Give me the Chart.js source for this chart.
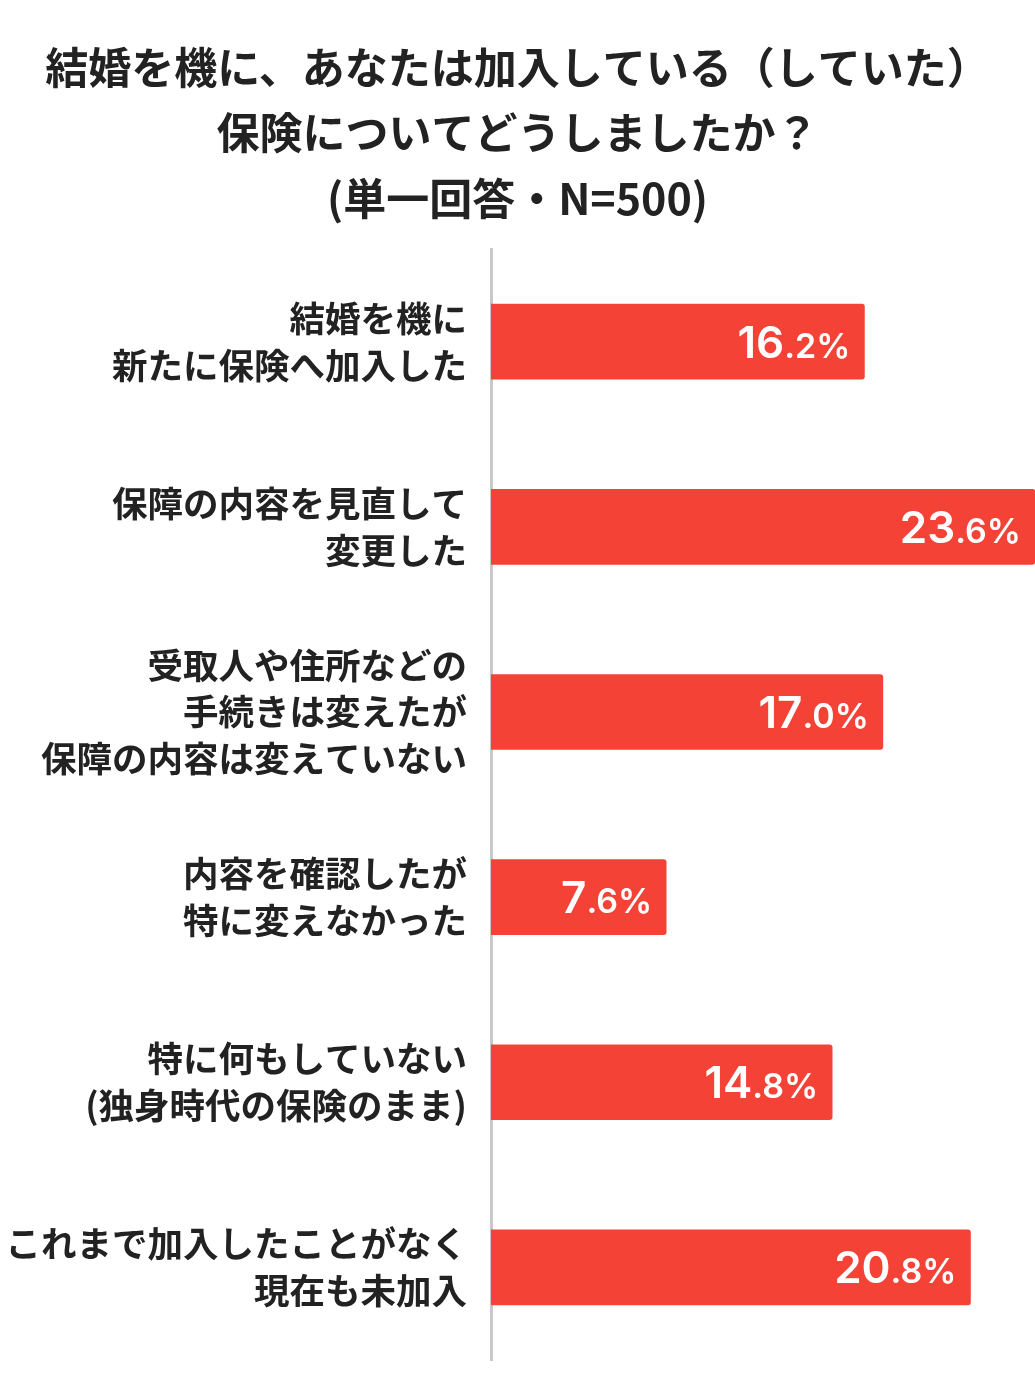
<!DOCTYPE html>
<html lang="ja">
<head>
<meta charset="utf-8">
<title>結婚を機に保険についてどうしましたか</title>
<script src="https://cdn.jsdelivr.net/npm/chart.js@4/dist/chart.umd.min.js"></script>
<style>
  html, body { margin: 0; padding: 0; background: #fff; }
  #wrap { width: 1035px; height: 1389px; }
</style>
</head>
<body>
<div id="wrap"><canvas id="chart" width="1035" height="1389"></canvas></div>
<script>
//////////////// data ////////////////
const titleLines = ['結婚を機に、あなたは加入している（していた）', '保険についてどうしましたか？', '(単一回答・N=500)'];
const categories = [
    ['結婚を機に', '新たに保険へ加入した'],
    ['保障の内容を見直して', '変更した'],
    ['受取人や住所などの', '手続きは変えたが', '保障の内容は変えていない'],
    ['内容を確認したが', '特に変えなかった'],
    ['特に何もしていない', '(独身時代の保険のまま)'],
    ['これまで加入したことがなく', '現在も未加入']
];
const values = [16.2, 23.6, 17.0, 7.6, 14.8, 20.8];
const axisMax = 23.6;

const JP = '"Noto Sans CJK JP", "Noto Sans", sans-serif';
const NUM = 'Inter, "Noto Sans", sans-serif';

//////////////// value labels inside bars ////////////////
// big integer part, smaller ".x%" part, right aligned in the bar
const valueLabels = {
    id: 'valueLabels',
    afterDatasetsDraw(chart) {
        const ctx = chart.ctx;
        const meta = chart.getDatasetMeta(0);
        ctx.save();
        ctx.fillStyle = '#ffffff';
        ctx.textBaseline = 'alphabetic';
        meta.data.forEach(function (bar, i) {
            const parts = values[i].toFixed(1).split('.');
            const big = parts[0];
            const small = '.' + parts[1] + '%';
            ctx.font = '600 34px ' + NUM;
            const wSmall = ctx.measureText(small).width;
            ctx.font = '600 44px ' + NUM;
            const wBig = ctx.measureText(big).width;
            const right = bar.x - 14;
            const base = bar.y + 16;
            ctx.textAlign = 'left';
            ctx.fillText(big, right - wSmall - wBig, base);
            ctx.font = '600 34px ' + NUM;
            ctx.fillText(small, right - wSmall, base);
        });
        ctx.restore();
    }
};

//////////////// chart ////////////////
const ctx = document.getElementById('chart').getContext('2d');
const chart = new Chart(ctx, {
    type: 'bar',
    data: {
        labels: categories,
        datasets: [{
            data: values,
            backgroundColor: '#F44336',
            borderRadius: { topRight: 3, bottomRight: 3 },
            borderSkipped: 'start',
            barThickness: 75
        }]
    },
    options: {
        indexAxis: 'y',
        responsive: false,
        animation: false,
        layout: { padding: { bottom: 29, right: 0, left: 0 } },
        plugins: {
            legend: { display: false },
            tooltip: { enabled: false },
            title: {
                display: true,
                text: titleLines,
                color: '#222222',
                font: { family: JP, size: 43, weight: 'bold', lineHeight: 1.52 },
                padding: { top: 35, bottom: 18 }
            }
        },
        scales: {
            x: {
                display: false,
                min: 0,
                max: axisMax
            },
            y: {
                grid: { display: false, drawTicks: false },
                border: { display: true, color: '#c8c8c8', width: 3 },
                ticks: {
                    color: '#222222',
                    padding: 24,
                    font: { family: JP, size: 35.5, weight: 'bold', lineHeight: 1.32 }
                },
                // fixed label column; multi-line labels would otherwise eat space at the bottom
                afterFit: function (scale) {
                    scale.width = 491;
                    scale.paddingTop = 0;
                    scale.paddingBottom = 0;
                }
            }
        }
    },
    plugins: [valueLabels]
});
</script>
</body>
</html>
